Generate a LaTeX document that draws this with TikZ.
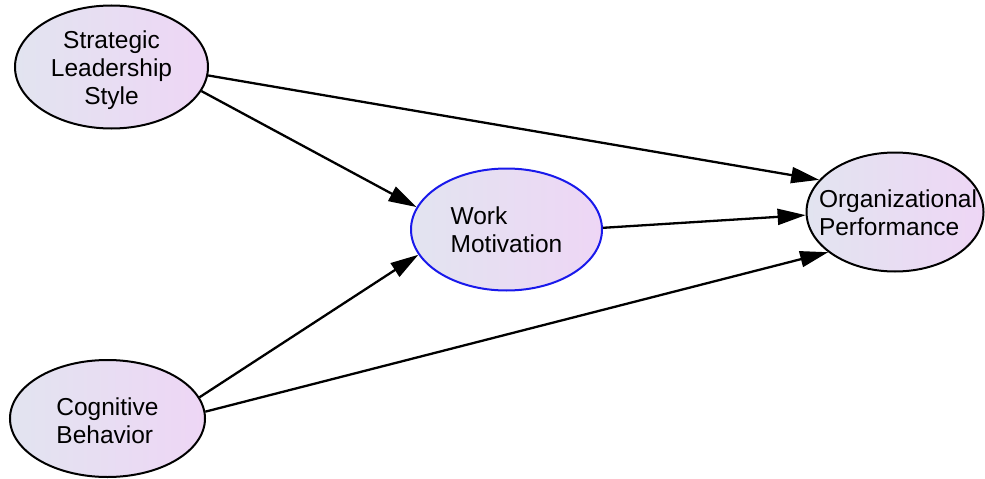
\documentclass[tikz,border=0pt]{standalone}
\usepackage{fontspec}
\setmainfont{Liberation Sans}
\usetikzlibrary{shapes.geometric,arrows.meta}
\definecolor{fillleft}{RGB}{226,228,240}
\definecolor{fillright}{RGB}{238,214,245}
\definecolor{mediatorblue}{RGB}{25,25,235}
\begin{document}
\begin{tikzpicture}[x=1pt,y=1pt,
    construct/.style={ellipse,draw=black,line width=2pt,
        left color=fillleft,right color=fillright,inner sep=0pt},
    labeltext/.style={font=\fontsize{24.5}{28}\selectfont,inner sep=0pt},
    path/.style={line width=2.3pt,-{Triangle[length=28pt,width=16pt]}}]
    \useasboundingbox (0,0) rectangle (985,-479);
    %% constructs
    \node[construct,minimum width=193pt,minimum height=123pt] (strat) at (111.5,-67) {};
    \node[labeltext,align=center] (stratT) at (111.5,-70) {Strategic\\Leadership\\Style};
    \node[construct,minimum width=195pt,minimum height=117pt] (cog) at (107.5,-418.5) {};
    \node[labeltext,align=left] (cogT) at (107.5,-421) {Cognitive\\Behavior};
    \node[construct,draw=mediatorblue,minimum width=191pt,minimum height=122pt] (work) at (506.5,-229.5) {};
    \node[labeltext,align=left] (workT) at (506.5,-230) {Work\\Motivation};
    \node[construct,minimum width=177pt,minimum height=119pt] (org) at (895,-212) {};
    \node[labeltext,align=left] (orgT) at (898,-213) {Organizational\\Performance};
    %% paths
    \draw[path] (strat.-5) -- (org.157);
    \draw[path] (strat.-15) -- (work.166);
    \draw[path] (work.1) -- (org.182);
    \draw[path] (cog.13) -- (work.-164);
    \draw[path] (cog.4) -- (org.-149);
\end{tikzpicture}
\end{document}
